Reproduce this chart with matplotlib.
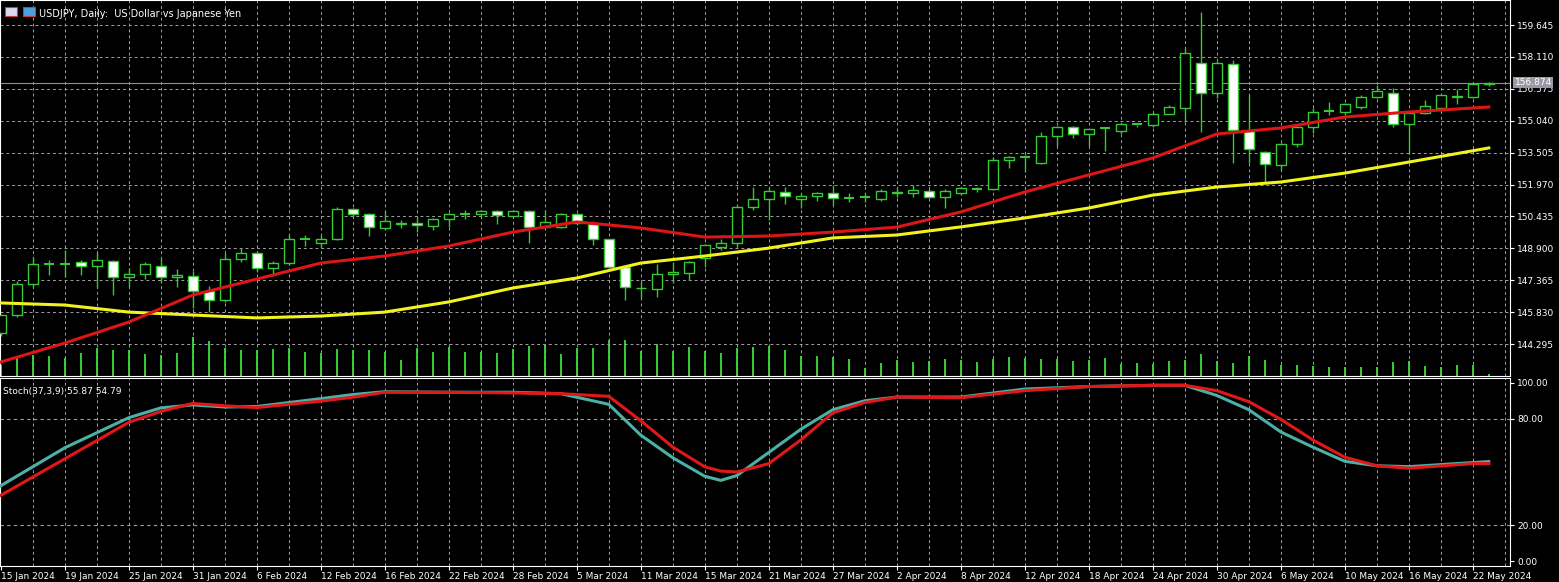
import numpy as np
import matplotlib.pyplot as plt
from matplotlib.patches import Rectangle

# daily USDJPY bars, 15 Jan 2024 .. 23 May 2024
opens = [144.81, 145.69, 147.17, 148.13, 148.15, 148.22, 148.06, 148.30, 147.53, 147.65,
         148.06, 147.53, 147.58, 146.85, 146.41, 148.37, 148.66, 147.94, 148.18, 149.33,
         149.17, 149.33, 150.78, 150.53, 149.89, 150.05, 150.13, 149.99, 150.31, 150.53,
         150.54, 150.70, 150.45, 150.69, 149.94, 149.94, 150.53, 150.07, 149.33, 148.02,
         147.00, 146.92, 147.65, 147.73, 148.42, 148.95, 149.14, 150.87, 151.26, 151.63,
         151.29, 151.42, 151.55, 151.34, 151.35, 151.26, 151.63, 151.55, 151.67, 151.35,
         151.58, 151.74, 151.74, 153.15, 153.30, 153.02, 154.30, 154.72, 154.38, 154.67,
         154.56, 154.85, 154.83, 155.35, 155.64, 157.83, 156.36, 157.77, 154.56, 153.55,
         152.91, 153.90, 154.75, 155.50, 155.47, 155.72, 156.20, 156.39, 154.88, 155.39,
         155.64, 156.16, 156.16, 156.79]
highs = [145.75, 147.33, 148.50, 148.34, 148.82, 148.34, 148.71, 148.34, 147.94, 148.26,
         148.42, 147.89, 147.82, 147.09, 148.66, 148.90, 148.79, 148.29, 149.57, 149.54,
         149.54, 150.87, 150.85, 150.60, 150.71, 150.26, 150.42, 150.35, 150.60, 150.74,
         150.75, 150.76, 150.76, 150.75, 150.74, 150.58, 150.60, 150.23, 149.36, 148.10,
         147.29, 148.13, 148.26, 148.30, 149.10, 149.33, 150.98, 151.87, 151.87, 151.87,
         151.55, 151.63, 151.95, 151.55, 151.58, 151.75, 151.79, 151.95, 151.75, 151.75,
         151.87, 151.87, 153.31, 153.34, 153.39, 154.51, 154.78, 154.79, 154.65, 154.69,
         154.90, 154.94, 155.40, 155.80, 158.52, 160.29, 157.91, 157.96, 156.28, 153.60,
         153.95, 154.80, 155.64, 155.96, 155.90, 156.26, 156.76, 156.60, 155.45, 156.04,
         156.32, 156.55, 156.83, 156.92]
lows = [144.70, 145.61, 147.02, 147.62, 147.53, 147.62, 146.97, 146.65, 147.05, 147.41,
        147.25, 147.05, 146.01, 145.85, 146.33, 148.26, 147.78, 147.57, 148.10, 149.01,
        148.90, 149.30, 150.42, 149.49, 149.78, 149.86, 149.67, 149.78, 149.94, 150.29,
        150.45, 150.07, 150.40, 149.17, 149.86, 149.86, 150.00, 149.06, 147.95, 146.41,
        146.49, 146.57, 147.21, 147.37, 148.02, 148.82, 148.98, 150.74, 150.26, 151.02,
        150.82, 151.19, 150.98, 151.14, 151.14, 151.20, 151.38, 151.38, 151.30, 150.82,
        151.46, 151.63, 151.70, 152.75, 152.59, 152.98, 153.82, 154.19, 153.82, 153.60,
        154.40, 154.75, 154.75, 155.35, 154.99, 154.51, 156.12, 152.99, 152.99, 152.03,
        152.67, 153.79, 154.43, 155.31, 155.31, 155.59, 156.12, 154.72, 153.55, 155.35,
        155.56, 155.84, 156.12, 156.71]
closes = [145.69, 147.17, 148.13, 148.15, 148.13, 148.06, 148.34, 147.53, 147.66, 148.13,
          147.53, 147.62, 146.86, 146.41, 148.37, 148.66, 147.94, 148.18, 149.33, 149.31,
          149.33, 150.78, 150.53, 149.94, 150.21, 150.10, 150.02, 150.31, 150.53, 150.55,
          150.70, 150.50, 150.70, 149.94, 150.15, 150.55, 150.13, 149.33, 148.02, 147.05,
          146.97, 147.65, 147.74, 148.26, 149.06, 149.14, 150.87, 151.26, 151.66, 151.42,
          151.42, 151.55, 151.30, 151.33, 151.36, 151.66, 151.55, 151.71, 151.38, 151.66,
          151.79, 151.75, 153.15, 153.28, 153.31, 154.30, 154.75, 154.40, 154.62, 154.67,
          154.87, 154.86, 155.35, 155.72, 158.31, 156.39, 157.80, 154.59, 153.68, 152.94,
          153.90, 154.75, 155.47, 155.52, 155.83, 156.20, 156.49, 154.88, 155.39, 155.75,
          156.28, 156.23, 156.79, 156.87]
volumes = [11, 18, 21, 20, 18, 23, 28, 26, 26, 22, 21, 23, 39, 35, 28, 26, 26, 27, 28, 24,
           23, 27, 26, 26, 24, 16, 28, 24, 29, 24, 24, 23, 27, 30, 31, 22, 28, 28, 36, 36,
           25, 32, 25, 29, 25, 23, 28, 29, 30, 26, 20, 20, 19, 17, 8, 13, 16, 14, 15, 17,
           16, 14, 17, 19, 18, 17, 17, 15, 16, 18, 12, 13, 12, 15, 16, 22, 15, 13, 20, 16,
           11, 11, 10, 9, 9, 9, 9, 14, 15, 10, 9, 11, 11, 2]

# moving averages and stochastic
ma_idx = [0, 4, 8, 12, 16, 20, 24, 28, 32, 36, 40, 44, 48, 52, 56, 60, 64, 68, 72, 76, 80, 84, 88, 93]
ma_red = [143.43, 144.34, 145.35, 146.65, 147.42, 148.19, 148.53, 149.01, 149.68, 150.17, 149.88, 149.44,
          149.49, 149.68, 149.92, 150.65, 151.61, 152.43, 153.25, 154.40, 154.69, 155.22, 155.46, 155.70]
ma_yellow = [146.27, 146.17, 145.83, 145.69, 145.55, 145.64, 145.83, 146.32, 146.99, 147.47, 148.19, 148.53,
             148.91, 149.40, 149.54, 149.93, 150.36, 150.84, 151.46, 151.85, 152.09, 152.52, 153.05, 153.73]
st_idx = [0, 4, 8, 10, 12, 14, 16, 20, 22, 24, 28, 32, 35, 38, 40, 42, 44, 45, 46, 48, 50, 52, 54, 56, 60,
          64, 68, 72, 74, 76, 78, 80, 82, 84, 86, 88, 92, 93]
st_main = [42.3, 63.6, 80.5, 86.0, 87.7, 86.5, 86.8, 91.2, 93.5, 95.1, 94.8, 94.8, 94.0, 88.0, 70.7, 58.0,
           47.6, 45.3, 48.0, 61.0, 74.0, 85.0, 90.0, 92.1, 92.1, 96.6, 98.0, 98.7, 98.7, 93.0, 85.0,
           72.5, 64.0, 56.0, 53.5, 53.0, 55.3, 55.87]
st_signal = [36.9, 57.4, 77.9, 84.0, 88.5, 87.2, 86.2, 89.8, 92.0, 94.8, 94.8, 94.4, 94.0, 92.5, 78.8, 64.0,
             52.9, 50.5, 50.0, 54.7, 68.0, 83.2, 89.0, 92.1, 91.7, 95.7, 98.0, 98.7, 98.7, 95.7, 89.5,
             79.6, 68.0, 58.3, 53.5, 52.1, 54.7, 54.79]

date_labels = ["15 Jan 2024", "19 Jan 2024", "25 Jan 2024", "31 Jan 2024", "6 Feb 2024", "12 Feb 2024",
               "16 Feb 2024", "22 Feb 2024", "28 Feb 2024", "5 Mar 2024", "11 Mar 2024", "15 Mar 2024",
               "21 Mar 2024", "27 Mar 2024", "2 Apr 2024", "8 Apr 2024", "12 Apr 2024", "18 Apr 2024",
               "24 Apr 2024", "30 Apr 2024", "6 May 2024", "10 May 2024", "16 May 2024", "22 May 2024"]
price_ticks = [144.295, 145.830, 147.365, 148.900, 150.435, 151.970, 153.505, 155.040, 156.575, 158.110, 159.645]
last_price = 156.874

BG = "black"
GREEN = "#35c935"
GRID = "#a0a0a0"
W, H = 1559, 582
fig = plt.figure(figsize=(W / 100, H / 100), dpi=100, facecolor=BG)
ax = fig.add_axes([0, 1 - 376 / H, 1510 / W, 376 / H], facecolor=BG)
axs = fig.add_axes([0, 1 - 566 / H, 1510 / W, 188 / H], facecolor=BG)

# volumes on a twin axis underneath the candles
axv = ax.twinx()
axv.set_ylim(0, 376)
axv.bar(range(len(volumes)), volumes, width=0.12, color=GREEN, zorder=1)
axv.axis("off")
ax.set_zorder(axv.get_zorder() + 1)
ax.patch.set_visible(False)
axv.patch.set_visible(True)
axv.patch.set_facecolor(BG)

xmax = 1510 / 16
n = len(opens)
x = np.arange(n)
gdash = (0, (3, 3))

for a in (ax, axv, axs):
    a.set_xlim(-0.05, xmax - 0.05)
for a in (ax, axs):
    for xv in np.arange(2, xmax, 2):
        a.axvline(xv, color=GRID, lw=0.7, ls=gdash, zorder=0)
    for s in a.spines.values():
        s.set_color("white")
    a.yaxis.tick_right()
    a.yaxis.set_label_position("right")
    a.tick_params(axis="y", colors="white", labelsize=6.5, length=3, pad=2,
                  left=False, labelleft=False, right=True, labelright=True)

ax.set_ylim(142.755, 160.85)
ax.set_yticks(price_ticks)
ax.set_yticklabels([f"{p:.3f}" for p in price_ticks])
for p in price_ticks:
    ax.axhline(p, color=GRID, lw=0.7, ls=gdash, zorder=0)
ax.set_xticks([])

# candles
bw = 0.62
for i in range(n):
    o, h, l, c = opens[i], highs[i], lows[i], closes[i]
    top, bot = max(o, c), min(o, c)
    ax.vlines(i, l, bot, color=GREEN, lw=1, zorder=3)
    ax.vlines(i, top, h, color=GREEN, lw=1, zorder=3)
    if top - bot < 0.03:
        ax.hlines(top, i - bw / 2, i + bw / 2, color=GREEN, lw=1.5, zorder=4)
    else:
        face = BG if c >= o else "white"
        ax.add_patch(Rectangle((i - bw / 2, bot), bw, top - bot, facecolor=face,
                               edgecolor=GREEN, lw=1, zorder=4))

ax.plot(ma_idx, ma_yellow, color="#f2f21e", lw=2.2, zorder=5, solid_joinstyle="round")
ax.plot(ma_idx, ma_red, color="#dc1515", lw=2.2, zorder=5, solid_joinstyle="round")

ax.axhline(last_price, color="#8c8c96", lw=0.8, zorder=2)
ax.text(1.003, (last_price - 142.755) / (160.85 - 142.755), f"{last_price:.3f}", transform=ax.transAxes,
        fontsize=6.5, color="white", va="center", ha="left",
        bbox=dict(boxstyle="square,pad=0.15", fc="#9a9aa6", ec="none"), zorder=10, clip_on=False)

ax.text(0.026, 0.975, "USDJPY, Daily:  US Dollar vs Japanese Yen", transform=ax.transAxes,
        color="white", fontsize=7, va="top", ha="left")
ax.add_patch(Rectangle((0.003, 0.958), 0.008, 0.024, transform=ax.transAxes, fc="#d9d9f0", ec="#c04040", lw=0.8))
ax.add_patch(Rectangle((0.015, 0.958), 0.008, 0.024, transform=ax.transAxes, fc="#4aa0e0", ec="#c04040", lw=0.8))

# stochastic panel
axs.set_ylim(-2.8, 102.8)
axs.set_yticks([0, 20, 80, 100])
axs.set_yticklabels(["0.00", "20.00", "80.00", "100.00"])
for lv in (20, 80):
    axs.axhline(lv, color=GRID, lw=0.8, ls=gdash, zorder=0)
axs.plot(st_idx, st_main, color="#4cb0a6", lw=2.2, zorder=3, solid_joinstyle="round")
axs.plot(st_idx, st_signal, color="#e01818", lw=2.2, zorder=4, solid_joinstyle="round")
axs.text(0.002, 0.95, f"Stoch(37,3,9) {st_main[-1]:.2f} {st_signal[-1]:.2f}", transform=axs.transAxes,
         color="white", fontsize=6.5, va="top", ha="left")

axs.set_xticks(np.arange(0, n, 4))
axs.set_xticklabels(date_labels, ha="left")
axs.tick_params(axis="x", colors="white", labelsize=6.5, length=3, pad=1)

fig.savefig("out.png", dpi=100, facecolor=BG)
